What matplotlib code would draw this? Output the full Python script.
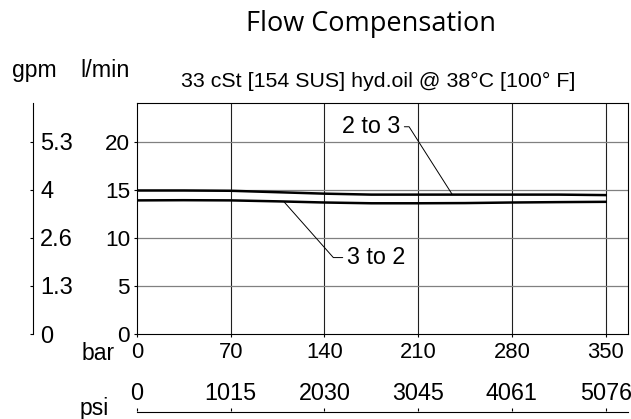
import matplotlib
matplotlib.use('Agg')
import matplotlib.pyplot as plt

# data
pressure_bar = [0, 35, 70, 105, 140, 175, 210, 245, 280, 315, 350]
flow_2to3 = [14.93, 14.93, 14.9, 14.75, 14.6, 14.5, 14.5, 14.5, 14.5, 14.5, 14.45]
flow_3to2 = [13.9, 13.92, 13.9, 13.8, 13.68, 13.6, 13.6, 13.62, 13.68, 13.72, 13.75]

bar_ticks = [0, 70, 140, 210, 280, 350]
psi_labels = ['0', '1015', '2030', '3045', '4061', '5076']
lpm_ticks = [0, 5, 10, 15, 20]
gpm_labels = ['0', '1.3', '2.6', '4', '5.3']

W, H = 631, 419
plt.rcParams['font.family'] = ['Liberation Sans', 'DejaVu Sans']
fig = plt.figure(figsize=(W / 100, H / 100), dpi=100)

x0, x1 = 137, 628
y0, y1 = 334, 103.3
ax = fig.add_axes([x0 / W, 1 - y0 / H, (x1 - x0) / W, (y0 - y1) / H])
ax.set_xlim(0, 366.7)
ax.set_ylim(0, 24)

ax.set_xticks(bar_ticks)
ax.set_yticks(lpm_ticks)
for v in bar_ticks[1:]:
    ax.axvline(v, color='#202020', lw=0.8, zorder=1)
for v in lpm_ticks[1:]:
    ax.axhline(v, color='#808080', lw=0.9, zorder=1)
for s in ax.spines.values():
    s.set_linewidth(0.8)
ax.tick_params(axis='x', labelsize=15.8, length=2.5, width=0.8, pad=3.5)
ax.tick_params(axis='y', labelsize=16.2, length=2.5, width=0.8, pad=2.5)

ax.plot(pressure_bar, flow_2to3, color='black', lw=1.8, zorder=3)
ax.plot(pressure_bar, flow_3to2, color='black', lw=1.8, zorder=3)

ax.annotate('2 to 3', xy=(235.5, 14.5), xytext=(174.8, 21.56),
            ha='center', va='center', fontsize=16.8,
            arrowprops=dict(arrowstyle='-', lw=0.7, color='black', shrinkA=1, shrinkB=0,
                            connectionstyle='angle,angleA=0,angleB=122.5,rad=0'))
ax.annotate('3 to 2', xy=(110, 13.72), xytext=(178.5, 7.95),
            ha='center', va='center', fontsize=16.8,
            arrowprops=dict(arrowstyle='-', lw=0.7, color='black', shrinkA=1, shrinkB=0,
                            connectionstyle='angle,angleA=0,angleB=-48.5,rad=0'))

# gpm scale on the far left
gx = 33.3
gax = fig.add_axes([gx / W, 1 - y0 / H, 0.0001, (y0 - y1) / H])
gax.set_ylim(0, 24)
gax.set_xticks([])
for side in ['top', 'bottom', 'right']:
    gax.spines[side].set_visible(False)
gax.spines['left'].set_linewidth(0.8)
gax.yaxis.set_ticks_position('right')
gax.set_yticks(lpm_ticks)
gax.set_yticklabels(gpm_labels)
gax.tick_params(axis='y', direction='in', length=2.5, width=0.8, pad=5, labelsize=17)

# psi scale at the bottom
py = 411.5
pax = fig.add_axes([x0 / W, 1 - py / H, (x1 - x0) / W, 0.0001])
pax.set_xlim(0, 366.7)
pax.set_yticks([])
for side in ['top', 'left', 'right']:
    pax.spines[side].set_visible(False)
pax.spines['bottom'].set_linewidth(0.8)
pax.xaxis.set_ticks_position('top')
pax.set_xticks(bar_ticks)
pax.set_xticklabels(psi_labels)
pax.tick_params(axis='x', direction='out', length=2.5, width=0.8, pad=2.5, labelsize=16.8)

fig.text(371 / W, 1 - 24 / H, 'Flow Compensation', ha='center', va='center',
         fontsize=19.5, family=['Open Sans', 'DejaVu Sans'])
fig.text(378 / W, 1 - 81 / H, '33 cSt [154 SUS] hyd.oil @ 38°C [100° F]',
         ha='center', va='center', fontsize=15.4)
fig.text(12 / W, 1 - 77 / H, 'gpm', ha='left', va='baseline', fontsize=16.5)
fig.text(80 / W, 1 - 77 / H, 'l/min', ha='left', va='baseline', fontsize=16.8)
fig.text(115 / W, 1 - 353 / H, 'bar', ha='right', va='center', fontsize=16.5)
fig.text(80 / W, 1 - 408 / H, 'psi', ha='left', va='center', fontsize=16.5)

fig.savefig('out.png', dpi=100)
